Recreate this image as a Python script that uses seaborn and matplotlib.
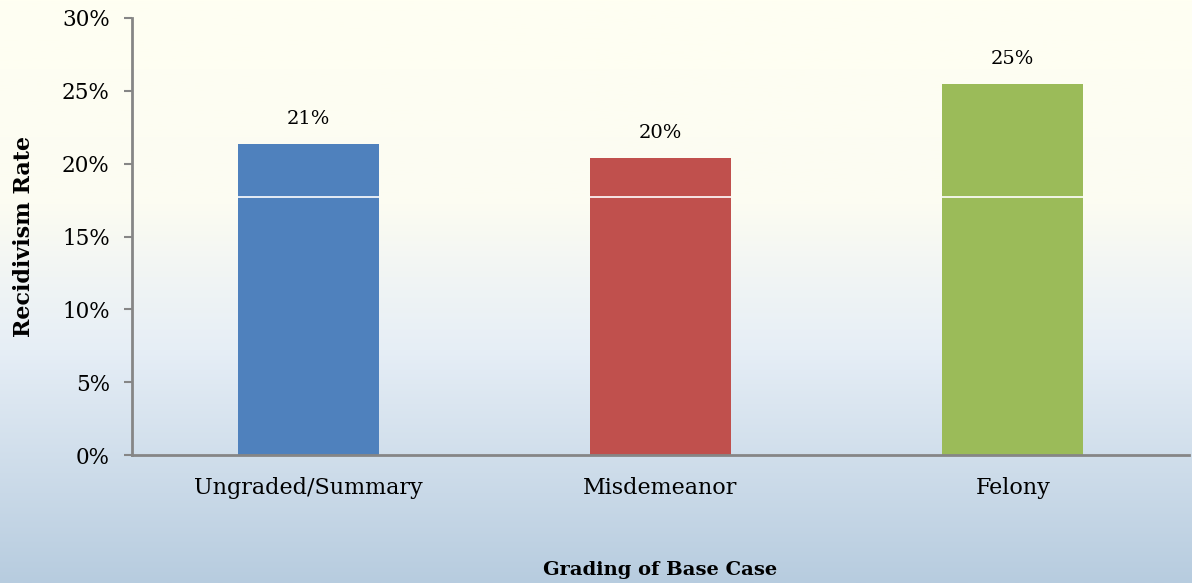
import numpy as np
import pandas as pd
import matplotlib
matplotlib.use('Agg')
import matplotlib.pyplot as plt
import seaborn as sns
from matplotlib.colors import LinearSegmentedColormap

categories = ['Ungraded/Summary', 'Misdemeanor', 'Felony']
rates = [21.35, 20.4, 25.45]
labels = ['21%', '20%', '25%']
bar_colors = ['#4F81BD', '#C0504D', '#9BBB59']
split_level = 17.7
yticks = [0, 5, 10, 15, 20, 25, 30]

sns.set_style('white')
plt.rcParams['font.family'] = ['DejaVu Serif']
plt.rcParams['text.color'] = 'black'
plt.rcParams['axes.labelcolor'] = 'black'
plt.rcParams['xtick.color'] = 'black'
plt.rcParams['ytick.color'] = 'black'

df = pd.DataFrame({'grade': categories, 'rate': rates})

fig = plt.figure(figsize=(11.92, 5.83), dpi=100)

# background gradient: pale yellow at top, light blue at bottom
bg = fig.add_axes([0, 0, 1, 1], zorder=-10)
cmap = LinearSegmentedColormap.from_list(
    'bg', [(0.0, '#FFFFF2'), (0.35, '#FCFCF2'), (0.6, '#E6EEF6'), (1.0, '#B7CCDF')])
bg.imshow(np.linspace(0, 1, 256).reshape(-1, 1), aspect='auto', cmap=cmap,
          extent=[0, 1, 0, 1])
bg.set_axis_off()

ax = fig.add_axes([132 / 1192, (583 - 455) / 583, (1189 - 132) / 1192, (455 - 18) / 583])
ax.set_facecolor('none')
sns.barplot(data=df, x='grade', y='rate', hue='grade', palette=bar_colors,
            width=0.40, legend=False, ax=ax, saturation=1, linewidth=0)
for p, lab in zip(ax.patches, labels):
    ax.hlines(split_level, p.get_x(), p.get_x() + p.get_width(),
              color='white', lw=1.2, zorder=5)
    ax.text(p.get_x() + p.get_width() / 2, p.get_height() + 1.1, lab,
            ha='center', va='bottom', fontsize=14)

ax.set_ylim(0, 30)
ax.set_xlim(-0.5, 2.5)
ax.set_yticks(yticks)
ax.set_yticklabels([f'{t}%' for t in yticks], fontsize=15.5)
ax.tick_params(axis='x', labelsize=16, length=0, pad=16)
ax.tick_params(axis='y', length=6, width=1.5, color='#868686', direction='out',
               left=True, pad=10)
ax.set_xlabel('')
fig.text((132 + 1189) / 2 / 1192, 1 - 570 / 583, 'Grading of Base Case',
         ha='center', va='center', fontsize=14, fontweight='bold')
ax.set_ylabel('Recidivism Rate', fontsize=16, fontweight='bold')
ax.yaxis.set_label_coords(-0.092, 0.5)
sns.despine(ax=ax)
for s in ['left', 'bottom']:
    ax.spines[s].set_color('#868686')
    ax.spines[s].set_linewidth(2)

fig.savefig('out.png', dpi=100)
plt.close()
